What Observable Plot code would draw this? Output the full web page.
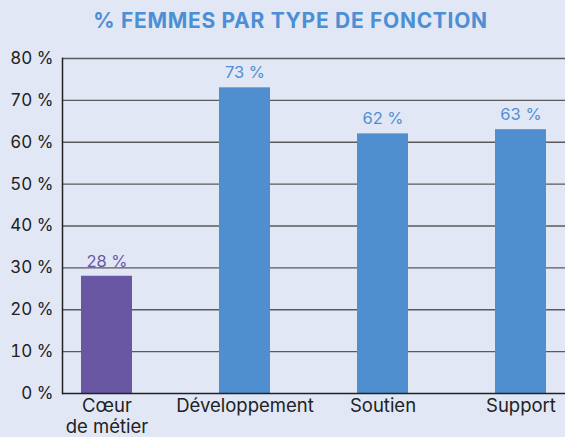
<!DOCTYPE html>
<html><head><meta charset="utf-8">
<script src="https://cdn.jsdelivr.net/npm/d3@7"></script>
<script src="https://cdn.jsdelivr.net/npm/@observablehq/plot@0.6"></script>
<style>
html,body{margin:0;padding:0;background:#e1e7f5;width:565px;height:437px;overflow:hidden;}
#title{height:40px;line-height:42px;text-align:center;padding-left:16px;font-family:Inter,"Noto Sans",sans-serif;font-weight:700;font-size:21px;color:#4d8fd4;letter-spacing:0.7px;}
</style></head><body>
<div id="title">% FEMMES PAR TYPE DE FONCTION</div>
<div id="chart"></div>
<script>
const categories = ["Cœur\nde métier", "Développement", "Soutien", "Support"];
const values = [28, 73, 62, 63];
const colors = ["#6a57a3", "#4f8fcf", "#4f8fcf", "#4f8fcf"];
const labelColors = ["#6a57a3", "#4f8fd4", "#4f8fd4", "#4f8fd4"];
const yTicks = [0, 10, 20, 30, 40, 50, 60, 70, 80];

const data = categories.map((c, i) => ({cat: c, v: values[i], color: colors[i], lc: labelColors[i]}));

const plot = Plot.plot({
  width: 565,
  height: 397,
  marginTop: 18,
  marginBottom: 44,
  marginLeft: 62,
  marginRight: 0,
  style: {background: "transparent", fontFamily: "Inter, 'Noto Sans', sans-serif", fontSize: "16px", color: "#222"},
  x: {domain: categories, paddingInner: 0.633, paddingOuter: 0.13, label: null},
  y: {domain: [0, 80], label: null},
  marks: [
    Plot.ruleY(yTicks.filter(t => t > 0), {stroke: "#5a5a5a", strokeWidth: 1.4}),
    Plot.axisY(yTicks, {tickSize: 0, tickPadding: 9, tickFormat: d => d + " %", fontSize: 17, fill: "#222", label: null}),
    Plot.barY(data, {x: "cat", y: "v", fill: "color"}),
    Plot.text(data, {x: "cat", y: "v", text: d => d.v + " %", fill: "lc", dy: -15, fontSize: 16.5}),
    Plot.axisX({tickSize: 0, tickPadding: 3, fontSize: 18.5, fill: "#222", label: null, lineHeight: 1.15}),
    Plot.ruleY([0], {stroke: "#222", strokeWidth: 1.5}),
    Plot.frame({anchor: "left", stroke: "#222", strokeWidth: 1.5})
  ]
});
document.getElementById("chart").appendChild(plot);
</script>
</body></html>
